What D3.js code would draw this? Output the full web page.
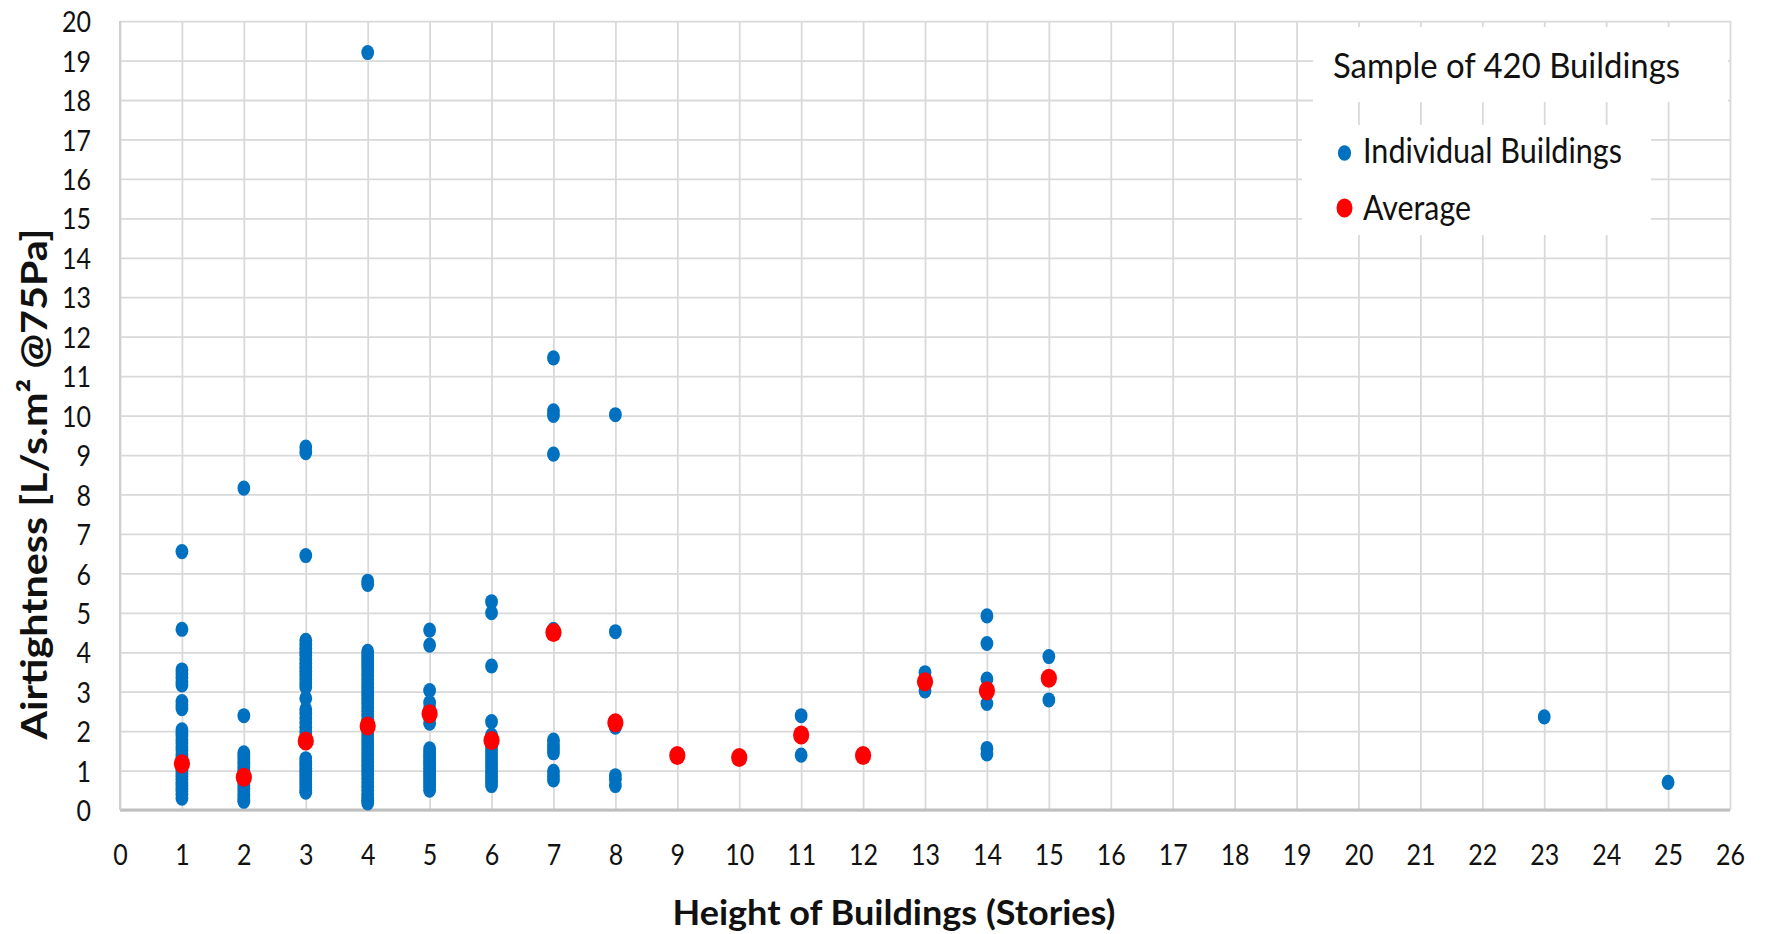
<!DOCTYPE html>
<html>
<head>
<meta charset="utf-8">
<script src="https://cdn.jsdelivr.net/npm/d3@7"></script>
<style>
  html, body { margin: 0; padding: 0; background: #fff; overflow: hidden; }
  svg { display: block; }
</style>
</head>
<body>
<svg id="chart"></svg>
<script>
// Building height (stories) for each group of measured buildings
const storeyLevels = [1, 2, 3, 4, 5, 6, 7, 8, 9, 10, 11, 12, 13, 14, 15, 23, 25];

// Measured airtightness of each building, grouped by storey level [L/s.m² @75Pa]
const airtightnessByStorey = [
  [6.55, 4.58, 3.55, 3.45, 3.36, 3.25, 3.17, 2.75, 2.66, 2.57, 2.03, 1.95, 1.88, 1.78, 1.7, 1.6, 1.52, 1.42, 1.33, 1.25, 1.15, 1.08, 1.0, 0.92, 0.85, 0.78, 0.7, 0.62, 0.55, 0.48, 0.4, 0.3],
  [8.16, 2.39, 1.45, 1.38, 1.3, 1.22, 1.15, 1.08, 1.0, 0.92, 0.85, 0.78, 0.7, 0.62, 0.55, 0.48, 0.4, 0.33, 0.26, 0.22],
  [9.2, 9.06, 6.45, 4.3, 4.2, 4.1, 4.0, 3.92, 3.82, 3.72, 3.62, 3.52, 3.42, 3.32, 3.22, 3.12, 2.83, 2.55, 2.45, 2.33, 2.22, 2.1, 1.98, 1.85, 1.78, 1.3, 1.22, 1.14, 1.06, 0.98, 0.9, 0.82, 0.74, 0.66, 0.58, 0.5, 0.45],
  [19.2, 5.8, 5.72, 4.02, 3.93, 3.85, 3.76, 3.68, 3.6, 3.5, 3.4, 3.3, 3.2, 3.1, 3.0, 2.9, 2.8, 2.7, 2.6, 2.5, 2.4, 2.3, 2.2, 2.1, 2.0, 1.9, 1.8, 1.7, 1.6, 1.5, 1.4, 1.3, 1.2, 1.1, 1.0, 0.9, 0.8, 0.7, 0.6, 0.5, 0.4, 0.32, 0.25, 0.18],
  [4.56, 4.18, 3.03, 2.72, 2.58, 2.35, 2.2, 1.55, 1.47, 1.38, 1.3, 1.22, 1.14, 1.06, 0.98, 0.9, 0.82, 0.74, 0.66, 0.58, 0.5],
  [5.28, 5.0, 3.65, 2.24, 1.9, 1.82, 1.72, 1.62, 1.52, 1.42, 1.32, 1.22, 1.12, 1.02, 0.92, 0.82, 0.72, 0.62],
  [11.46, 10.12, 10.0, 9.02, 4.58, 1.77, 1.65, 1.55, 1.45, 0.98, 0.86, 0.76],
  [10.02, 4.52, 2.1, 0.87, 0.78, 0.62],
  [1.38],
  [1.33],
  [2.39, 1.39],
  [1.38],
  [3.48, 3.25, 3.02],
  [4.92, 4.22, 3.32, 2.7, 1.56, 1.42],
  [3.89, 2.79],
  [2.36],
  [0.7]
];

// Average airtightness per storey level
const averageStoreys = [1, 2, 3, 4, 5, 6, 7, 8, 9, 10, 11, 12, 13, 14, 15];
const averageAirtightness = [1.17, 0.83, 1.75, 2.13, 2.44, 1.76, 4.5, 2.21, 1.38, 1.33, 1.9, 1.38, 3.25, 3.02, 3.34];

// Axis ticks and texts
const xTicks = d3.range(0, 27);
const yTicks = d3.range(0, 21);
const xTitle = "Height of Buildings (Stories)";
const yTitle = "Airtightness [L/s.m² @75Pa]";
const legendTitle = "Sample of 420 Buildings";
const seriesNames = ["Individual Buildings", "Average"];
const seriesColors = ["#0070C0", "#FF0000"];

// The drawing is laid out in a vertically compressed space and stretched to the page,
// which gives the tall glyphs and oval markers of the figure.
const W = 1767, H = 934, K = 1.18;
const Y = v => v / K;

const svg = d3.select("#chart")
  .attr("width", W).attr("height", H)
  .attr("viewBox", `0 0 ${W} ${H / K}`)
  .attr("preserveAspectRatio", "none");

const plot = { left: 120, right: 1730, top: Y(21), bottom: Y(810) };

const x = d3.scaleLinear().domain([0, 26]).range([plot.left, plot.right]);
const y = d3.scaleLinear().domain([0, 20]).range([plot.bottom, plot.top]);

const font = "Lato, 'Open Sans', sans-serif";

// Horizontal gridlines + y tick labels
const yAxis = svg.append("g")
  .attr("transform", `translate(${plot.left},0)`)
  .call(d3.axisLeft(y).tickValues(yTicks).tickSize(-(plot.right - plot.left)).tickPadding(29).tickFormat(d3.format("d")));
yAxis.select(".domain").remove();
yAxis.selectAll(".tick line").attr("stroke", "#D9D9D9").attr("stroke-width", 1.5);
yAxis.selectAll(".tick text")
  .attr("font-family", font).attr("font-size", 25).attr("fill", "#111")
  .attr("dy", "0.36em");

// Vertical gridlines + x tick labels
const xAxis = svg.append("g")
  .attr("transform", `translate(0,${plot.bottom})`)
  .call(d3.axisBottom(x).tickValues(xTicks).tickSize(-(plot.bottom - plot.top)).tickFormat(d3.format("d")));
xAxis.select(".domain").remove();
xAxis.selectAll(".tick line").attr("stroke", "#D9D9D9").attr("stroke-width", 1.8);
xAxis.selectAll(".tick text")
  .attr("font-family", font).attr("font-size", 25).attr("fill", "#111")
  .attr("y", Y(865) - plot.bottom).attr("dy", 0);

// Axis lines
svg.append("line")
  .attr("x1", plot.left).attr("x2", plot.right)
  .attr("y1", plot.bottom).attr("y2", plot.bottom)
  .attr("stroke", "#BFBFBF").attr("stroke-width", 2.4);
svg.append("line")
  .attr("x1", plot.left).attr("x2", plot.left)
  .attr("y1", plot.top).attr("y2", plot.bottom)
  .attr("stroke", "#CFCFCF").attr("stroke-width", 2);

// Axis titles
svg.append("text")
  .attr("x", 894).attr("y", Y(925))
  .attr("text-anchor", "middle")
  .attr("font-family", font).attr("font-weight", "bold").attr("font-size", 29.5)
  .attr("textLength", 443).attr("lengthAdjust", "spacingAndGlyphs")
  .attr("fill", "#111")
  .text(xTitle);

svg.append("text")
  .attr("transform", `translate(47,${Y(484)}) rotate(-90)`)
  .attr("text-anchor", "middle")
  .attr("font-family", font).attr("font-weight", "bold").attr("font-size", 37)
  .attr("textLength", Y(511)).attr("lengthAdjust", "spacingAndGlyphs")
  .attr("fill", "#111")
  .text(yTitle);

// Individual buildings
const buildings = storeyLevels.flatMap((s, i) => airtightnessByStorey[i].map(v => ({ s, v })));
svg.append("g").selectAll("circle")
  .data(buildings)
  .join("circle")
  .attr("cx", d => x(d.s)).attr("cy", d => y(d.v))
  .attr("r", 6.4)
  .attr("fill", seriesColors[0]);

// Averages
svg.append("g").selectAll("circle")
  .data(averageStoreys.map((s, i) => ({ s, v: averageAirtightness[i] })))
  .join("circle")
  .attr("cx", d => x(d.s)).attr("cy", d => y(d.v))
  .attr("r", 8.1)
  .attr("fill", seriesColors[1]);

// Title box of the legend
svg.append("rect")
  .attr("x", 1313).attr("y", Y(27)).attr("width", 1728 - 1313).attr("height", Y(102) - Y(27))
  .attr("fill", "#fff");
svg.append("text")
  .attr("x", 1333).attr("y", Y(78))
  .attr("font-family", font).attr("font-size", 29.5).attr("fill", "#111")
  .attr("textLength", 347).attr("lengthAdjust", "spacingAndGlyphs")
  .text(legendTitle);

// Legend entries
svg.append("rect")
  .attr("x", 1302).attr("y", Y(125)).attr("width", 1651 - 1302).attr("height", Y(235) - Y(125))
  .attr("fill", "#fff");
const legendRows = [
  { name: seriesNames[0], color: seriesColors[0], r: 6.6, cy: 153, base: 163, len: 259 },
  { name: seriesNames[1], color: seriesColors[1], r: 8.0, cy: 208, base: 220, len: 108 }
];
const lg = svg.append("g").selectAll("g").data(legendRows).join("g");
lg.append("circle")
  .attr("cx", 1344.5).attr("cy", d => Y(d.cy)).attr("r", d => d.r)
  .attr("fill", d => d.color);
lg.append("text")
  .attr("x", 1363).attr("y", d => Y(d.base))
  .attr("font-family", font).attr("font-size", 29.5).attr("fill", "#111")
  .attr("textLength", d => d.len).attr("lengthAdjust", "spacingAndGlyphs")
  .text(d => d.name);
</script>
</body>
</html>
